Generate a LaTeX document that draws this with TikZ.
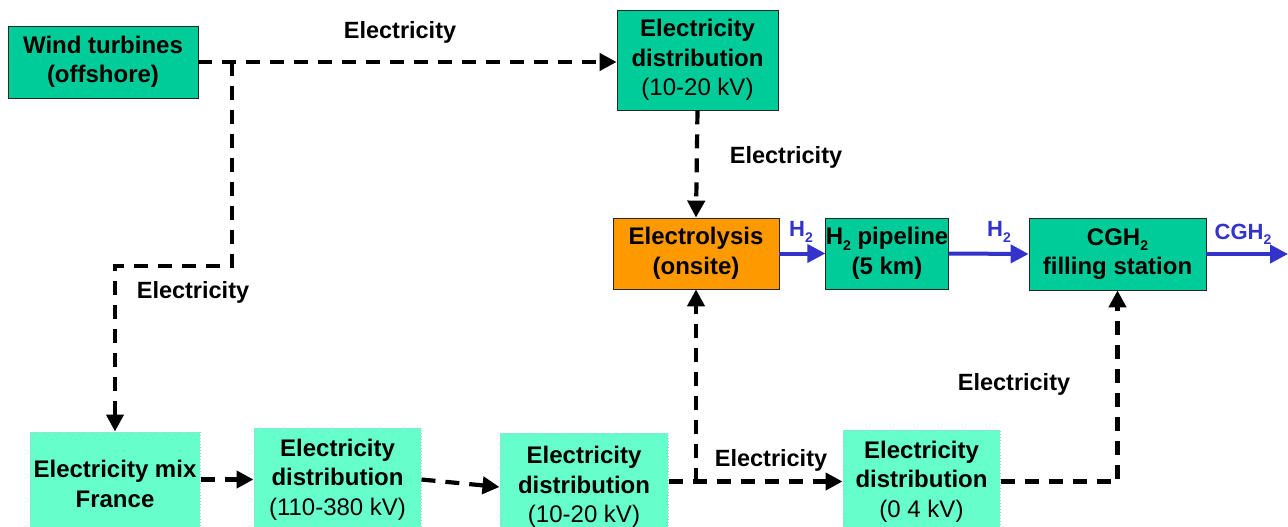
\documentclass[tikz,border=0pt]{standalone}
\usepackage{fontspec}
\setmainfont{Liberation Sans}
\usetikzlibrary{arrows.meta}
\definecolor{dkgreen}{RGB}{0,204,153}
\definecolor{ltgreen}{RGB}{102,255,204}
\definecolor{orng}{RGB}{255,153,0}
\definecolor{flowblue}{RGB}{51,51,204}
\newcommand{\subtwo}{\raisebox{-0.45ex}{\fontsize{14}{14}\selectfont 2}}
\tikzset{
  darkbox/.style={draw=black!85, line width=0.8pt, fill=dkgreen, align=center, inner sep=0pt},
  lightbox/.style={draw=gray!45, dotted, line width=1pt, fill=ltgreen, align=center, inner sep=0pt},
  orangebox/.style={draw=black!85, line width=0.8pt, fill=orng, align=center, inner sep=0pt},
  elec/.style={draw=black, line width=4.2pt, dash pattern=on 14pt off 10pt, -{Triangle[length=17pt,width=17pt]}},
  h2flow/.style={draw=flowblue, line width=4pt, -{Triangle[length=18pt,width=18pt]}},
  lbl/.style={font=\fontsize{23.5}{28}\selectfont\bfseries, inner sep=0pt},
  blbl/.style={font=\fontsize{22}{26}\selectfont\bfseries, text=flowblue, inner sep=0pt},
}
\begin{document}
\begin{tikzpicture}[x=1pt,y=-1pt, font=\fontsize{24}{29.5}\selectfont]
\useasboundingbox (0,0) rectangle (1288,527);
\clip (0,0) rectangle (1288,527);
% boxes
\node[darkbox, minimum width=190pt, minimum height=72pt] (wind) at (103,62) {\bfseries Wind turbines\\\bfseries (offshore)};
\node[darkbox, minimum width=161pt, minimum height=100pt] (topdist) at (697.5,60) {\bfseries Electricity\\\bfseries distribution\\(10-20 kV)};
\node[orangebox, minimum width=166pt, minimum height=71pt] (elys) at (696,253.5) {\bfseries Electrolysis\\\bfseries (onsite)};
\node[darkbox, minimum width=122pt, minimum height=71pt] (pipe) at (887,253.5) {\bfseries H\subtwo{} pipeline\\\bfseries (5 km)};
\node[darkbox, minimum width=177pt, minimum height=72pt] (cgh) at (1117.5,254) {\bfseries CGH\subtwo\\\bfseries filling station};
\node[lightbox, minimum width=170pt, minimum height=104pt] (mix) at (115,484) {\bfseries Electricity mix\\\bfseries France};
\node[lightbox, minimum width=167pt, minimum height=103pt] (dhv) at (337.5,479.5) {\bfseries Electricity\\\bfseries distribution\\(110-380 kV)};
\node[lightbox, minimum width=168pt, minimum height=108pt] (dmv) at (584,487) {\bfseries Electricity\\\bfseries distribution\\(10-20 kV)};
\node[lightbox, minimum width=157pt, minimum height=103pt] (dlv) at (921.5,481.5) {\bfseries Electricity\\\bfseries distribution\\(0 4 kV)};
% junction coordinates
\coordinate (j1) at (232,62);
\coordinate (c1) at (115,266);
\coordinate (j2) at (elys.south |- dlv.west);
\coordinate (outend) at (1288,254);
% electricity connectors
\path[elec] (wind.east) -- (wind.east -| topdist.west);
\path[elec] (j1) |- (c1) -- (mix.north);
\path[elec] (topdist.south) -- (elys.north);
\path[elec] (mix.east |- dhv.west) -- (dhv.west);
\path[elec] (dhv.east) -- (dmv.west);
\path[elec] (dmv.east |- dlv.west) -- (dlv.west);
\path[elec] (j2) -- (elys.south);
\path[elec] (dlv.east) -| (cgh.south);
% hydrogen flows
\path[h2flow] (elys.east) -- (pipe.west);
\path[h2flow] (pipe.east) -- (cgh.west);
\path[h2flow] (cgh.east) -- (outend);
% labels
\node[lbl] (l1) at (400,32) {Electricity};
\node[lbl] (l2) at (786,157) {Electricity};
\node[lbl] (l3) at (193,292) {Electricity};
\node[lbl] (l4) at (771,460) {Electricity};
\node[lbl] (l5) at (1014,384) {Electricity};
\node[blbl] (h1) at (801,232) {H\subtwo};
\node[blbl] (h2) at (999,232) {H\subtwo};
\node[blbl] (h3) at (1243,234) {CGH\subtwo};
\end{tikzpicture}
\end{document}
